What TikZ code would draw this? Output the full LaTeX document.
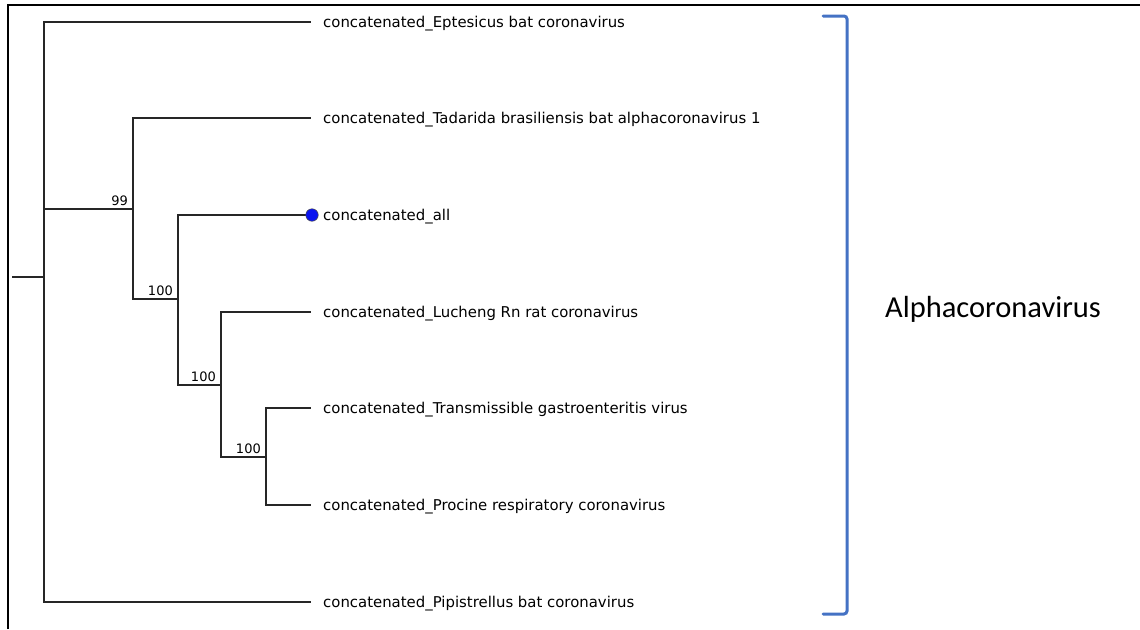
\documentclass[tikz,border=0pt]{standalone}
\usepackage{fontspec}
\setmainfont{DejaVu Sans}
\newfontfamily\cladefont{Carlito}
\definecolor{bracketblue}{HTML}{4472C4}
\definecolor{tipblue}{HTML}{0A14F0}
\begin{document}
\begin{tikzpicture}[x=1pt,y=-1pt,
  branch/.style={line width=1.2pt, draw=black!85},
  leaf/.style={anchor=west, inner sep=0pt, font=\fontsize{14.9}{17}\selectfont},
  support/.style={anchor=south east, inner sep=0pt, font=\fontsize{13}{15}\selectfont},
  tipdot/.style={circle, fill=tipblue, draw=black!70, line width=0.5pt, minimum size=12.5pt, inner sep=0pt},
  clade/.style={line width=3pt, draw=bracketblue, rounded corners=3pt, line cap=round},
]
\useasboundingbox (0,0) rectangle (1140,629);
\fill[white] (0,0) rectangle (1140,629);
% frame
\draw[line width=2pt] (8,629) -- (8,5) -- (1140,5);

% internal nodes of the tree
\coordinate (root) at (12,277);
\coordinate (n0)   at (44,277);
\coordinate (n99)  at (133,209);
\coordinate (na)   at (178,299);
\coordinate (nb)   at (221,385);
\coordinate (nc)   at (266,457);

% tips
\coordinate (t1) at (311,22);
\coordinate (t2) at (311,118);
\coordinate (t3) at (311,215);
\coordinate (t4) at (311,312);
\coordinate (t5) at (311,408);
\coordinate (t6) at (311,505);
\coordinate (t7) at (311,602);

% branches
\draw[branch] (root) -- (n0);
\draw[branch] (n0) |- (t1);
\draw[branch] (n0) |- (n99);
\draw[branch] (n0) |- (t7);
\draw[branch] (n99) |- (t2);
\draw[branch] (n99) |- (na);
\draw[branch] (na) |- (t3);
\draw[branch] (na) |- (nb);
\draw[branch] (nb) |- (t4);
\draw[branch] (nb) |- (nc);
\draw[branch] (nc) |- (t5);
\draw[branch] (nc) |- (t6);

% support values (shifts are in page units: positive yshift moves up)
\node[support] (s99)  at ([xshift=-5pt,yshift=3pt]n99) {99};
\node[support] (s100a) at ([xshift=-5pt,yshift=3pt]na) {100};
\node[support] (s100b) at ([xshift=-5pt,yshift=3pt]nb) {100};
\node[support] (s100c) at ([xshift=-5pt,yshift=3pt]nc) {100};

% highlighted tip
\node[tipdot] (dot) at ([xshift=1pt]t3) {};

% tip labels
\node[leaf] (l1) at ([xshift=12pt,yshift=-1.5pt]t1) {concatenated\_Eptesicus bat coronavirus};
\node[leaf] (l2) at ([xshift=12pt,yshift=-1.5pt]t2) {concatenated\_Tadarida brasiliensis bat alphacoronavirus 1};
\node[leaf] (l3) at ([xshift=12pt,yshift=-1.5pt]t3) {concatenated\_all};
\node[leaf] (l4) at ([xshift=12pt,yshift=-1.5pt]t4) {concatenated\_Lucheng Rn rat coronavirus};
\node[leaf] (l5) at ([xshift=12pt,yshift=-1.5pt]t5) {concatenated\_Transmissible gastroenteritis virus};
\node[leaf] (l6) at ([xshift=12pt,yshift=-1.5pt]t6) {concatenated\_Procine respiratory coronavirus};
\node[leaf] (l7) at ([xshift=12pt,yshift=-1.5pt]t7) {concatenated\_Pipistrellus bat coronavirus};

% clade bracket and name
\draw[clade] (823,16) -- (847,16) -- (847,614) -- (823,614);
\node[font=\cladefont\fontsize{30.5}{34}\selectfont, anchor=west, inner sep=0pt] (clade) at (885,309) {Alphacoronavirus};
\end{tikzpicture}
\end{document}
